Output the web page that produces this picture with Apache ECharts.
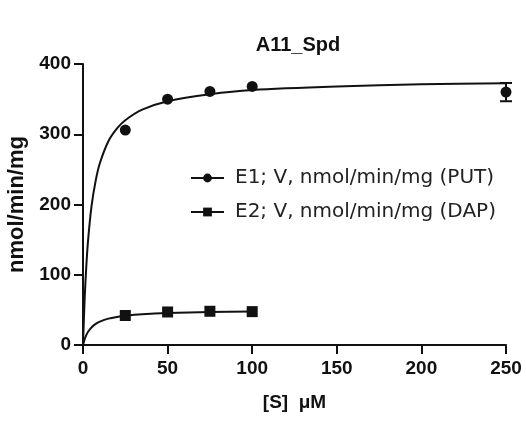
<!DOCTYPE html>
<html>
<head>
<meta charset="utf-8">
<script src="https://cdn.jsdelivr.net/npm/echarts@6/dist/echarts.min.js"></script>
<style>
  html, body { margin: 0; padding: 0; background: #fff; }
  #main { width: 526px; height: 421px; }
</style>
</head>
<body>
<div id="main"></div>
<script>
// measured points
var e1X = [25, 50, 75, 100, 250];
var e1Y = [306, 350, 361, 368, 360];
var e1Err = [0, 0, 0, 0, 13];
var e2X = [25, 50, 75, 100];
var e2Y = [42, 47, 48, 47.5];
// fitted curves
var fit1X = [0, 1, 2, 3, 5, 7.5, 10, 15, 20, 25, 35, 50, 75, 100, 150, 200, 250];
var fit1Y = [0, 67, 114, 149, 197, 234, 259, 290, 308, 320, 335, 347, 357, 363, 368, 371, 372.5];
var fit2X = [0, 1, 2, 3, 5, 7.5, 10, 15, 20, 25, 35, 50, 75, 100];
var fit2Y = [0, 8.3, 14.3, 18.8, 25, 30, 33.3, 37.5, 40, 41.7, 43.8, 45.5, 46.9, 47.6];

var name1 = 'E1; V, nmol/min/mg (PUT)';
var name2 = 'E2; V, nmol/min/mg (DAP)';

function pairs(xs, ys) {
    var out = [];
    for (var i = 0; i < xs.length; i++) out.push([xs[i], ys[i]]);
    return out;
}

var chart = echarts.init(document.getElementById('main'));
var boldFont = 'Liberation Sans, Arial, sans-serif';
var ink = '#111';

chart.setOption({
    animation: false,
    title: {
        text: 'A11_Spd',
        left: 293,
        top: 30,
        textAlign: 'center',
        textStyle: { fontFamily: boldFont, fontWeight: 'bold', fontSize: 20, color: ink }
    },
    legend: {
        orient: 'vertical',
        left: 185,
        top: 163,
        itemWidth: 33,
        itemHeight: 11,
        itemGap: 14,
        data: [name1, name2],
        textStyle: { fontFamily: 'DejaVu Sans', fontSize: 20, color: '#222', padding: [0, 0, 0, 6] }
    },
    grid: { left: 83, right: 20, top: 64, bottom: 76, containLabel: false, outerBoundsMode: 'none' },
    xAxis: {
        type: 'value',
        min: 0, max: 250, interval: 50,
        name: '[S]  \u03bcM',
        nameLocation: 'middle',
        nameGap: 48,
        nameTextStyle: { fontFamily: boldFont, fontWeight: 'bold', fontSize: 19, color: ink },
        axisLine: { lineStyle: { color: ink, width: 2 } },
        axisTick: { length: 9, lineStyle: { color: ink, width: 2 } },
        axisLabel: { fontFamily: boldFont, fontWeight: 'bold', fontSize: 19, color: ink, margin: 14 },
        splitLine: { show: false }
    },
    yAxis: {
        type: 'value',
        min: 0, max: 400, interval: 100,
        name: 'nmol/min/mg',
        nameLocation: 'middle',
        nameGap: 48,
        nameTextStyle: { fontFamily: boldFont, fontWeight: 'bold', fontSize: 22, color: ink },
        axisLine: { show: true, lineStyle: { color: ink, width: 2 } },
        axisTick: { show: true, length: 9, lineStyle: { color: ink, width: 2 } },
        axisLabel: { fontFamily: boldFont, fontWeight: 'bold', fontSize: 19, color: ink, margin: 12 },
        splitLine: { show: false }
    },
    series: [
        {
            name: name1,
            type: 'line',
            data: pairs(fit1X, fit1Y),
            smooth: 0.3,
            showSymbol: false,
            symbol: 'circle',
            symbolSize: 10,
            itemStyle: { color: ink },
            lineStyle: { color: ink, width: 2 }
        },
        {
            name: name2,
            type: 'line',
            data: pairs(fit2X, fit2Y),
            smooth: 0.3,
            showSymbol: false,
            symbol: 'rect',
            symbolSize: 10,
            itemStyle: { color: ink },
            lineStyle: { color: ink, width: 2 }
        },
        {
            name: name1,
            type: 'scatter',
            data: pairs(e1X, e1Y),
            symbol: 'circle',
            symbolSize: 11,
            itemStyle: { color: ink, opacity: 1 },
            z: 3
        },
        {
            name: name2,
            type: 'scatter',
            data: pairs(e2X, e2Y),
            symbol: 'rect',
            symbolSize: 11,
            itemStyle: { color: ink, opacity: 1 },
            z: 3
        },
        {
            name: name1,
            type: 'custom',
            data: e1X.map(function (x, i) { return [x, e1Y[i], e1Err[i]]; }),
            renderItem: function (params, api) {
                var err = api.value(2);
                if (!err) return null;
                var top = api.coord([api.value(0), api.value(1) + err]);
                var bot = api.coord([api.value(0), api.value(1) - err]);
                var w = 6;
                var st = { stroke: ink, lineWidth: 2 };
                return {
                    type: 'group',
                    children: [
                        { type: 'line', shape: { x1: top[0], y1: top[1], x2: bot[0], y2: bot[1] }, style: st },
                        { type: 'line', shape: { x1: top[0] - w, y1: top[1], x2: top[0] + w, y2: top[1] }, style: st },
                        { type: 'line', shape: { x1: bot[0] - w, y1: bot[1], x2: bot[0] + w, y2: bot[1] }, style: st }
                    ]
                };
            },
            z: 2
        }
    ]
});
</script>
</body>
</html>
